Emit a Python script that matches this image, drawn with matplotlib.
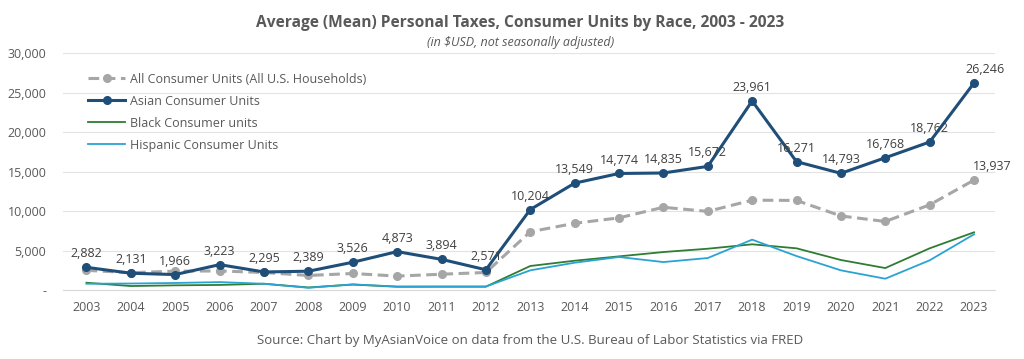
import matplotlib
matplotlib.use("Agg")
import matplotlib.pyplot as plt
from matplotlib.ticker import FuncFormatter

years = list(range(2003, 2024))
all_units = [2500, 2200, 2400, 2420, 2230, 1850, 2100, 1770, 2010, 2230,
             7390, 8460, 9150, 10490, 9970, 11390, 11360, 9390, 8690, 10800, 13937]
asian = [2882, 2131, 1966, 3223, 2295, 2389, 3526, 4873, 3894, 2571,
         10204, 13549, 14774, 14835, 15672, 23961, 16271, 14793, 16768, 18762, 26246]
black = [930, 510, 600, 650, 800, 330, 700, 420, 430, 430,
         3050, 3720, 4270, 4820, 5240, 5800, 5290, 3810, 2790, 5290, 7320]
hispanic = [800, 830, 900, 1010, 800, 290, 720, 450, 450, 450,
            2500, 3470, 4190, 3550, 4060, 6390, 4310, 2500, 1440, 3770, 7070]

labels = ["All Consumer Units (All U.S. Households)", "Asian Consumer Units",
          "Black Consumer units", "Hispanic Consumer Units"]

plt.rcParams['font.family'] = ['Open Sans', 'DejaVu Sans']

fig = plt.figure(figsize=(10.24, 3.59), dpi=100)
ax = fig.add_axes([0.0615, 0.192, 0.9105, 0.6595])

c_all = '#a6a6a6'
c_asian = '#1f4e79'
c_black = '#2e7d32'
c_hisp = '#2aa3d4'

ax.plot(years, all_units, color=c_all, lw=2.2, ls=(0, (3.5, 1.8)), marker='o', ms=5.5,
        label=labels[0], zorder=3)
ax.plot(years, asian, color=c_asian, lw=2.2, marker='o', ms=5.5, label=labels[1], zorder=4)
ax.plot(years, black, color=c_black, lw=1.3, label=labels[2], zorder=2)
ax.plot(years, hispanic, color=c_hisp, lw=1.3, label=labels[3], zorder=2)

ax.set_xlim(2002.47, 2023.48)
ax.set_ylim(0, 30000)
ax.set_yticks(range(0, 30001, 5000))
ax.yaxis.set_major_formatter(FuncFormatter(lambda v, p: '-' if v == 0 else f'{int(v):,}'))
ax.set_xticks(years)
ax.grid(axis='y', color='#e3e3e3', lw=0.8)
ax.set_axisbelow(True)
for s in ['top', 'right', 'left']:
    ax.spines[s].set_visible(False)
ax.spines['bottom'].set_color('#d9d9d9')
ax.tick_params(axis='both', length=0, labelsize=9, colors='#595959', pad=8)
ax.tick_params(axis='y', pad=12)

for i, (x, v) in enumerate(zip(years, asian)):
    dx = 8 if x == 2023 else 0
    ax.annotate(f'{v:,}', (x, v), xytext=(dx, 5), textcoords='offset points',
                ha='center', va='bottom', fontsize=9, color='#404040', zorder=6)
ax.annotate(f'{all_units[-1]:,}', (years[-1], all_units[-1]), xytext=(13, 5),
            textcoords='offset points', ha='center', va='bottom', fontsize=9,
            color='#404040', zorder=6)

leg = ax.legend(loc='upper left', bbox_to_anchor=(0.022, 0.94), frameon=False,
                fontsize=9, labelcolor='#595959', handlelength=2.9,
                handletextpad=0.4, labelspacing=0.72, borderaxespad=0)

fig.text(0.508, 0.937, 'Average (Mean) Personal Taxes, Consumer Units by Race, 2003 - 2023',
         ha='center', va='center', fontsize=11.2, fontweight='bold', color='#595959')
fig.text(0.508, 0.882, '(in $USD, not seasonally adjusted)', ha='center', va='center',
         fontsize=9, style='italic', color='#595959')
fig.text(0.518, 0.052, 'Source: Chart by MyAsianVoice on data from the U.S. Bureau of Labor Statistics via FRED',
         ha='center', va='center', fontsize=9.5, color='#595959')

fig.savefig('out.png', dpi=100)
